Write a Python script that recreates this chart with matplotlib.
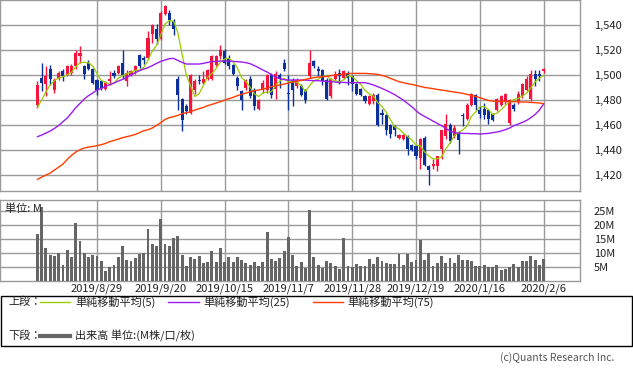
import numpy as np
import pandas as pd
import matplotlib
matplotlib.use('Agg')
import matplotlib.pyplot as plt
from matplotlib.lines import Line2D
from matplotlib.patches import Rectangle

plt.rcParams['font.family'] = ['Noto Sans CJK JP', 'DejaVu Sans']

# --- data (daily candles, 120 sessions) ---
opens = [1476, 1498, 1493, 1505, 1488, 1498, 1503, 1500, 1502, 1507,
         1515, 1507, 1510, 1505, 1496, 1495, 1489, 1495, 1502, 1502,
         1510, 1495, 1500, 1503, 1516, 1514, 1514, 1533, 1537, 1529,
         1549, 1550, 1543, 1497, 1481, 1475, 1470, 1488, 1496, 1494,
         1497, 1497, 1508, 1515, 1519, 1514, 1508, 1498, 1487, 1490,
         1497, 1488, 1473, 1488, 1488, 1500, 1489, 1500, 1510, 1486,
         1496, 1491, 1491, 1488, 1499, 1511, 1505, 1504, 1496, 1483,
         1497, 1502, 1498, 1502, 1499, 1493, 1489, 1483, 1477, 1479,
         1484, 1470, 1468, 1460, 1459, 1450, 1449, 1451, 1444, 1443,
         1434, 1450, 1427, 1427, 1427, 1441, 1451, 1460, 1451, 1453,
         1468, 1465, 1476, 1484, 1472, 1473, 1472, 1469, 1472, 1476,
         1479, 1462, 1476, 1479, 1483, 1488, 1481, 1501, 1501, 1503]
highs = [1495, 1510, 1507, 1508, 1498, 1503, 1505, 1508, 1509, 1520,
         1523, 1508, 1512, 1506, 1497, 1496, 1495, 1503, 1504, 1508,
         1520, 1504, 1504, 1508, 1517, 1515, 1535, 1541, 1541, 1551,
         1556, 1552, 1545, 1499, 1482, 1477, 1501, 1497, 1500, 1503,
         1505, 1516, 1516, 1524, 1521, 1516, 1509, 1499, 1488, 1497,
         1499, 1490, 1481, 1496, 1501, 1502, 1503, 1502, 1513, 1500,
         1498, 1498, 1493, 1489, 1520, 1512, 1507, 1505, 1498, 1498,
         1503, 1505, 1504, 1503, 1500, 1494, 1490, 1484, 1484, 1486,
         1486, 1473, 1469, 1461, 1460, 1453, 1453, 1452, 1445, 1444,
         1450, 1451, 1428, 1433, 1435, 1456, 1469, 1462, 1460, 1455,
         1470, 1478, 1486, 1485, 1475, 1478, 1473, 1470, 1482, 1484,
         1486, 1481, 1478, 1487, 1494, 1499, 1504, 1504, 1504, 1506]
lows = [1474, 1487, 1483, 1492, 1486, 1496, 1495, 1499, 1500, 1505,
        1510, 1497, 1504, 1493, 1484, 1488, 1488, 1492, 1498, 1501,
        1497, 1491, 1499, 1501, 1506, 1509, 1513, 1526, 1525, 1528,
        1548, 1540, 1532, 1472, 1455, 1469, 1469, 1485, 1493, 1493,
        1496, 1496, 1507, 1513, 1509, 1505, 1500, 1488, 1472, 1488,
        1482, 1472, 1472, 1486, 1486, 1482, 1481, 1490, 1503, 1472,
        1475, 1490, 1483, 1478, 1498, 1506, 1499, 1492, 1480, 1482,
        1496, 1493, 1497, 1492, 1487, 1484, 1483, 1478, 1476, 1477,
        1459, 1461, 1452, 1450, 1451, 1449, 1448, 1436, 1439, 1433,
        1425, 1427, 1412, 1425, 1423, 1433, 1449, 1446, 1450, 1437,
        1459, 1464, 1475, 1472, 1466, 1465, 1461, 1463, 1471, 1475,
        1477, 1460, 1471, 1477, 1482, 1487, 1479, 1491, 1495, 1502]
closes = [1492, 1494, 1499, 1497, 1496, 1502, 1499, 1507, 1507, 1518,
          1518, 1501, 1505, 1494, 1488, 1490, 1494, 1497, 1499, 1507,
          1500, 1502, 1503, 1507, 1507, 1512, 1530, 1540, 1529, 1550,
          1555, 1544, 1537, 1484, 1464, 1471, 1500, 1495, 1495, 1497,
          1504, 1515, 1515, 1520, 1510, 1507, 1501, 1491, 1480, 1496,
          1483, 1475, 1480, 1494, 1500, 1484, 1501, 1497, 1505, 1485,
          1488, 1496, 1484, 1480, 1510, 1507, 1503, 1495, 1481, 1497,
          1501, 1499, 1503, 1498, 1493, 1485, 1484, 1479, 1483, 1484,
          1460, 1468, 1456, 1453, 1456, 1452, 1452, 1441, 1440, 1435,
          1449, 1428, 1424, 1429, 1435, 1456, 1461, 1447, 1458, 1448,
          1467, 1476, 1485, 1476, 1469, 1468, 1465, 1464, 1481, 1483,
          1485, 1480, 1473, 1485, 1493, 1497, 1501, 1497, 1499, 1505]
# closes of the 4 sessions before the window (seed for the 5-day average)
prior_closes = [1464, 1466, 1470, 1478]

ma25 = [1450.7, 1452.0, 1453.6, 1455.2, 1457.3, 1459.7, 1462.7, 1465.6, 1469.6, 1473.9,
        1477.3, 1480.8, 1483.5, 1485.6, 1488.0, 1489.3, 1490.9, 1492.3, 1493.6, 1495.2,
        1496.5, 1498.1, 1500.0, 1501.9, 1503.5, 1504.8, 1505.9, 1507.5, 1509.3, 1510.9,
        1512.0, 1513.1, 1513.3, 1511.7, 1510.1, 1508.8, 1508.8, 1508.8, 1508.8, 1509.3,
        1510.1, 1510.7, 1510.9, 1511.2, 1511.2, 1511.2, 1510.9, 1510.7, 1510.4, 1509.9,
        1509.1, 1507.5, 1505.9, 1504.0, 1502.4, 1500.3, 1498.4, 1497.1, 1496.3, 1496.0,
        1496.0, 1496.0, 1496.0, 1496.0, 1495.7, 1495.5, 1495.5, 1495.2, 1494.9, 1494.7,
        1494.4, 1494.1, 1494.1, 1493.9, 1493.9, 1493.9, 1493.9, 1493.9, 1493.1, 1492.0,
        1490.7, 1489.3, 1487.7, 1486.1, 1484.3, 1482.1, 1480.0, 1477.3, 1474.7, 1471.5,
        1468.8, 1466.9, 1465.1, 1463.2, 1461.3, 1459.5, 1457.3, 1455.2, 1453.9, 1453.6,
        1453.3, 1453.3, 1453.1, 1453.1, 1452.8, 1453.1, 1453.3, 1453.9, 1454.4, 1455.2,
        1456.3, 1457.6, 1459.5, 1460.8, 1462.1, 1463.7, 1465.9, 1468.5, 1472.0, 1476.8]
ma75 = [1416.5, 1418.4, 1420.0, 1421.6, 1424.0, 1426.4, 1428.8, 1432.5, 1435.7, 1438.4,
        1440.3, 1441.6, 1442.4, 1442.9, 1443.5, 1444.3, 1445.3, 1446.7, 1447.7, 1448.8,
        1449.9, 1450.7, 1451.5, 1452.5, 1453.9, 1455.5, 1456.3, 1457.6, 1459.7, 1461.9,
        1464.5, 1465.9, 1466.7, 1467.7, 1469.1, 1469.9, 1470.7, 1472.0, 1473.1, 1474.1,
        1475.5, 1476.5, 1477.6, 1478.7, 1480.0, 1481.1, 1482.1, 1483.5, 1484.5, 1485.6,
        1486.7, 1487.5, 1488.0, 1488.8, 1489.6, 1490.7, 1491.5, 1492.0, 1492.8, 1493.6,
        1494.4, 1495.2, 1495.7, 1496.5, 1497.3, 1497.9, 1498.4, 1498.7, 1498.9, 1499.5,
        1500.0, 1500.5, 1500.8, 1501.1, 1501.3, 1501.3, 1501.3, 1501.3, 1501.1, 1500.8,
        1500.5, 1499.7, 1498.7, 1497.3, 1496.0, 1494.7, 1493.9, 1493.1, 1492.5, 1491.7,
        1490.9, 1490.1, 1489.6, 1489.1, 1488.5, 1488.0, 1487.5, 1486.9, 1486.4, 1485.9,
        1485.3, 1484.5, 1483.7, 1482.9, 1481.9, 1480.8, 1479.7, 1479.2, 1478.9, 1478.9,
        1478.9, 1478.7, 1478.7, 1478.7, 1478.4, 1478.4, 1478.1, 1477.9, 1477.6, 1477.1]

# volume in millions
volume = [16.6, 26.3, 11.9, 9.2, 8.8, 9.8, 5.7, 11.0, 8.5, 20.8,
          14.1, 9.8, 8.5, 9.4, 8.8, 7.1, 3.5, 4.9, 5.7, 8.5,
          12.4, 7.4, 7.1, 8.2, 9.5, 10.1, 18.4, 13.3, 12.4, 21.9,
          13.1, 12.4, 15.4, 15.9, 9.2, 5.4, 8.5, 7.7, 8.8, 6.4,
          6.8, 10.6, 6.8, 11.9, 6.8, 8.5, 6.8, 8.5, 7.4, 6.4,
          5.7, 6.8, 5.4, 6.8, 17.4, 7.8, 7.1, 8.2, 10.6, 15.5,
          9.2, 5.4, 6.8, 4.7, 25.1, 8.5, 5.7, 4.7, 7.1, 6.4,
          5.3, 4.2, 15.3, 5.3, 4.9, 6.0, 5.3, 5.3, 7.8, 6.0,
          8.5, 7.1, 6.4, 6.0, 6.0, 9.5, 5.7, 9.5, 6.7, 7.4,
          14.6, 7.4, 9.8, 5.3, 6.4, 8.8, 6.4, 8.1, 6.4, 9.2,
          7.4, 7.4, 7.1, 5.3, 5.3, 5.7, 4.9, 4.9, 5.7, 3.9,
          4.2, 4.9, 6.0, 4.9, 7.1, 7.1, 8.8, 7.4, 5.7, 7.8]

date_pos = [14, 29, 44, 59, 74, 89, 104, 119]
date_labels = ['2019/8/29', '2019/9/20', '2019/10/15', '2019/11/7',
               '2019/11/28', '2019/12/19', '2020/1/16', '2020/2/6']
price_ticks = [1420, 1440, 1460, 1480, 1500, 1520, 1540]
vol_ticks = [5, 10, 15, 20, 25]

# --- styling ---
UP = '#f5143c'
DOWN = '#0b2f9b'
C_MA5 = '#99cc00'
C_MA25 = '#9a1cf0'
C_MA75 = '#ff3c00'
GRID = '#9a9a9a'
TXT = '#222222'

W, H = 633, 375


def rect(x0, y0, x1, y1):
    return [x0 / W, 1 - y1 / H, (x1 - x0) / W, (y1 - y0) / H]


def fx(x):
    return x / W


def fy(y):
    return 1 - y / H


x = np.arange(len(closes))
o = np.array(opens)
c = np.array(closes)
ma5 = pd.Series(prior_closes + closes).rolling(5).mean().iloc[len(prior_closes):].values
colors = [UP if cc >= oo else DOWN for oo, cc in zip(o, c)]

fig = plt.figure(figsize=(W / 100, H / 100), dpi=100)

# price panel
ax = fig.add_axes(rect(0, 0, 580, 190.7))
ax.vlines(x, lows, highs, colors=colors, lw=1.0, zorder=3)
body_bottom = np.minimum(o, c)
body_h = np.maximum(np.abs(c - o), 0.8)
ax.bar(x, body_h, bottom=body_bottom, width=0.72, color=colors, lw=0, zorder=4)
ax.plot(x, ma5, color=C_MA5, lw=0.9, zorder=5)
ax.plot(x, ma25, color=C_MA25, lw=1.0, zorder=5)
ax.plot(x, ma75, color=C_MA75, lw=1.0, zorder=5)

ax.set_xlim(-8.8, 127.55)
ax.set_ylim(1407.5, 1560)
ax.set_yticks(price_ticks)
ax.set_yticklabels([f'{v:,}' for v in price_ticks])
ax.yaxis.tick_right()
ax.set_xticks(date_pos)
ax.set_xticklabels([])
ax.tick_params(axis='both', length=0, labelsize=8, colors=TXT)
ax.tick_params(axis='y', pad=10)
ax.grid(True, color=GRID, lw=1.0, zorder=0)
for s in ax.spines.values():
    s.set_color(GRID)
    s.set_linewidth(1.0)

# volume panel
axv = fig.add_axes(rect(0, 200, 580, 281))
axv.bar(x, volume, width=0.68, color='#666666', lw=0, zorder=3)
axv.set_xlim(-8.8, 127.55)
axv.set_ylim(0, 28.8)
axv.set_yticks(vol_ticks)
axv.set_yticklabels([f'{v}M' for v in vol_ticks])
axv.yaxis.tick_right()
axv.set_xticks(date_pos)
axv.set_xticklabels(date_labels)
axv.tick_params(axis='both', length=0, labelsize=8, colors=TXT)
axv.tick_params(axis='y', pad=10)
axv.tick_params(axis='x', pad=2)
axv.grid(True, color=GRID, lw=1.0, zorder=0)
for s in axv.spines.values():
    s.set_color(GRID)
    s.set_linewidth(1.0)
fig.text(fx(5), fy(209), '単位: M', fontsize=8, color=TXT, va='center', ha='left', zorder=10)

# legend box
fig.add_artist(Rectangle((fx(0.5), fy(346)), fx(631), fy(296) - fy(346),
                         transform=fig.transFigure, fill=False, ec='black', lw=1.0))
row1, row2 = 302, 336
fig.text(fx(8), fy(row1), '上段：', fontsize=8, color=TXT, va='center')
fig.text(fx(8), fy(row2), '下段：', fontsize=8, color=TXT, va='center')
legend_items = [(40, 70, 75, C_MA5, '単純移動平均(5)'),
                (168, 199, 203, C_MA25, '単純移動平均(25)'),
                (313, 343, 347, C_MA75, '単純移動平均(75)')]
for x0, x1, xt, col, lab in legend_items:
    fig.add_artist(Line2D([fx(x0), fx(x1)], [fy(row1), fy(row1)],
                          transform=fig.transFigure, color=col, lw=1.0))
    fig.text(fx(xt), fy(row1), lab, fontsize=8, color=TXT, va='center')
fig.add_artist(Line2D([fx(40), fx(70)], [fy(row2), fy(row2)],
                      transform=fig.transFigure, color='#666666', lw=3.0))
fig.text(fx(75), fy(row2), '出来高 単位:(M株/口/枚)', fontsize=8, color=TXT, va='center')

fig.text(fx(614), fy(358), '(c)Quants Research Inc.', fontsize=7.5, color='#555555',
         va='center', ha='right')

fig.savefig('out.png', dpi=100, facecolor='white')
